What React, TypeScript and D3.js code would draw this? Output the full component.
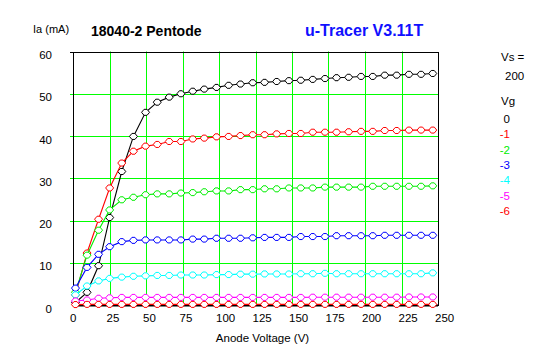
import React from "react";
import * as d3 from "d3";

// Anode voltage sample points (V), shared by all sweeps
const anodeVoltage = [
  1.7, 9.6, 17.5, 25.1, 33.4, 41.4, 49.7, 57.7, 65.9, 73.9, 82.0, 89.9, 98.3, 106.6, 114.7,
  123.1, 131.2, 139.5, 147.9, 156.0, 164.2, 172.6, 180.5, 188.8, 197.3, 205.3, 213.5, 221.7,
  230.1, 238.4, 246.4,
];

const gridVoltages = ["0", "-1", "-2", "-3", "-4", "-5", "-6"];
const seriesColors = ["#000000", "#ff0000", "#00ee00", "#0000ff", "#00ffff", "#ff00ff", "#ff0000"];

const ia0 = [0.6, 3.0, 9.3, 20.7, 31.6, 39.9, 45.6, 48.0, 49.2, 50.0, 50.6, 51.1, 51.5, 52.0, 52.3, 52.6, 52.7, 52.9, 53.1, 53.2, 53.4, 53.6, 53.8, 53.9, 54.1, 54.1, 54.4, 54.4, 54.6, 54.6, 54.8];
const ia1 = [2.4, 12.3, 20.3, 27.7, 33.6, 36.4, 37.6, 38.0, 38.7, 38.7, 39.3, 39.5, 39.8, 39.9, 40.1, 40.3, 40.3, 40.5, 40.6, 40.6, 40.9, 40.9, 40.9, 41.0, 41.1, 41.1, 41.3, 41.3, 41.4, 41.4, 41.4];
const ia2 = [3.0, 11.8, 17.7, 22.5, 24.9, 25.5, 26.1, 26.3, 26.3, 26.5, 26.6, 26.8, 27.0, 27.0, 27.3, 27.3, 27.5, 27.5, 27.7, 27.7, 27.7, 27.9, 27.9, 27.9, 27.9, 28.1, 28.1, 28.1, 28.1, 28.1, 28.2];
const ia3 = [4.0, 8.9, 12.0, 13.8, 15.0, 15.3, 15.4, 15.4, 15.4, 15.4, 15.6, 15.6, 15.8, 15.8, 15.8, 15.9, 16.0, 16.0, 16.0, 16.2, 16.2, 16.2, 16.4, 16.4, 16.4, 16.4, 16.5, 16.5, 16.5, 16.5, 16.5];
const ia4 = [2.4, 4.5, 5.7, 6.3, 6.6, 6.8, 6.9, 7.0, 7.0, 7.1, 7.1, 7.1, 7.2, 7.2, 7.3, 7.3, 7.35, 7.35, 7.35, 7.4, 7.4, 7.5, 7.4, 7.4, 7.4, 7.4, 7.4, 7.4, 7.4, 7.4, 7.6];
const ia5 = [0.95, 1.2, 1.6, 1.7, 1.8, 1.8, 1.8, 1.8, 1.8, 1.8, 1.8, 1.8, 1.8, 1.8, 1.8, 1.8, 1.8, 1.8, 1.8, 1.8, 1.85, 1.85, 1.85, 1.85, 1.85, 1.85, 1.85, 1.85, 1.9, 1.9, 1.9];
const ia6 = [0.1, 0.15, 0.15, 0.15, 0.15, 0.15, 0.15, 0.15, 0.15, 0.15, 0.15, 0.15, 0.15, 0.15, 0.15, 0.15, 0.15, 0.15, 0.15, 0.15, 0.15, 0.15, 0.15, 0.15, 0.15, 0.15, 0.15, 0.15, 0.15, 0.15, 0.15];
const seriesValues = [ia0, ia1, ia2, ia3, ia4, ia5, ia6];

const xTicks = [0, 25, 50, 75, 100, 125, 150, 175, 200, 225, 250];
const yTicks = [0, 10, 20, 30, 40, 50, 60];

const W = 547;
const H = 357;
const x = d3.scaleLinear().domain([0, 250]).range([73, 438]);
const y = d3.scaleLinear().domain([0, 60]).range([305, 51.5]);

const marker = "M-4,0 L-1.5,-3 L1.5,-3 L4,0 L1.5,3 L-1.5,3 Z";
const font = "'Liberation Sans', Arial, sans-serif";

export default function App() {
  const line = d3
    .line<[number, number]>()
    .x((d) => x(d[0]))
    .y((d) => y(d[1]));

  const [x0, x1] = x.range();
  const [y0, y1] = y.range();

  return (
    <svg
      width={W}
      height={H}
      style={{ position: "absolute", left: 0, top: 0, background: "#fff" }}
      fontFamily={font}
    >
      <rect width={W} height={H} fill="#fff" />
      {/* grid */}
      {xTicks.slice(1, -1).map((t) => (
        <line key={"gx" + t} x1={Math.round(x(t)) + 0.5} x2={Math.round(x(t)) + 0.5} y1={y1} y2={y0} stroke="#00ff00" strokeWidth={1} />
      ))}
      {yTicks.slice(1, -1).map((t) => (
        <line key={"gy" + t} x1={70} x2={x1} y1={Math.round(y(t)) + 0.5} y2={Math.round(y(t)) + 0.5} stroke="#00ff00" strokeWidth={1} />
      ))}
      {/* frame */}
      <rect x={x0 + 0.5} y={Math.round(y1) + 0.5} width={x1 - x0} height={y0 - Math.round(y1)} fill="none" stroke="#000" strokeWidth={1} />
      <line x1={x0} x2={x1} y1={y0 + 0.5} y2={y0 + 0.5} stroke="#000" strokeWidth={2} />
      <line x1={70} x2={x0} y1={Math.round(y1) + 0.5} y2={Math.round(y1) + 0.5} stroke="#000" />

      {/* curves */}
      {seriesValues.map((vals, i) => {
        const pts: [number, number][] = vals.map((v, j) => [anodeVoltage[j], v]);
        return (
          <g key={"s" + i}>
            <path d={line(pts) || ""} fill="none" stroke={seriesColors[i]} strokeWidth={1.1} />
            {pts.map((p, j) => (
              <path
                key={j}
                d={marker}
                transform={`translate(${x(p[0])},${y(p[1])})`}
                fill="#fff"
                stroke={seriesColors[i]}
                strokeWidth={1}
              />
            ))}
          </g>
        );
      })}

      {/* y tick labels */}
      {yTicks.map((t) => (
        <text key={"yl" + t} x={52} y={y(t) + 7.5} textAnchor="end" fontSize={11.5} fill="#000">
          {t}
        </text>
      ))}
      {/* x tick labels */}
      {xTicks.map((t) => (
        <text key={"xl" + t} x={x(t) - 3} y={322} textAnchor="start" fontSize={11.5} fill="#000">
          {t}
        </text>
      ))}
      <text x={262.5} y={342} textAnchor="middle" fontSize={11.5} fill="#000">
        Anode Voltage (V)
      </text>
      <text x={33} y={33} fontSize={11} fill="#000">
        Ia (mA)
      </text>
      <text x={91} y={36} fontSize={14} fontWeight="bold" fill="#000">
        18040-2 Pentode
      </text>
      <text x={305} y={36} fontSize={16} fontWeight="bold" fill="#1010ff">
        u-Tracer V3.11T
      </text>

      {/* legend */}
      <text x={501} y={61} fontSize={11.5} fill="#000">Vs =</text>
      <text x={505} y={79.5} fontSize={11.5} fill="#000">200</text>
      <text x={501} y={105} fontSize={11.5} fill="#000">Vg</text>
      {gridVoltages.map((g, i) => (
        <text key={"lg" + i} x={510} y={122.7 + i * 15.4} textAnchor="end" fontSize={11.5} fill={seriesColors[i]}>
          {g}
        </text>
      ))}
    </svg>
  );
}
